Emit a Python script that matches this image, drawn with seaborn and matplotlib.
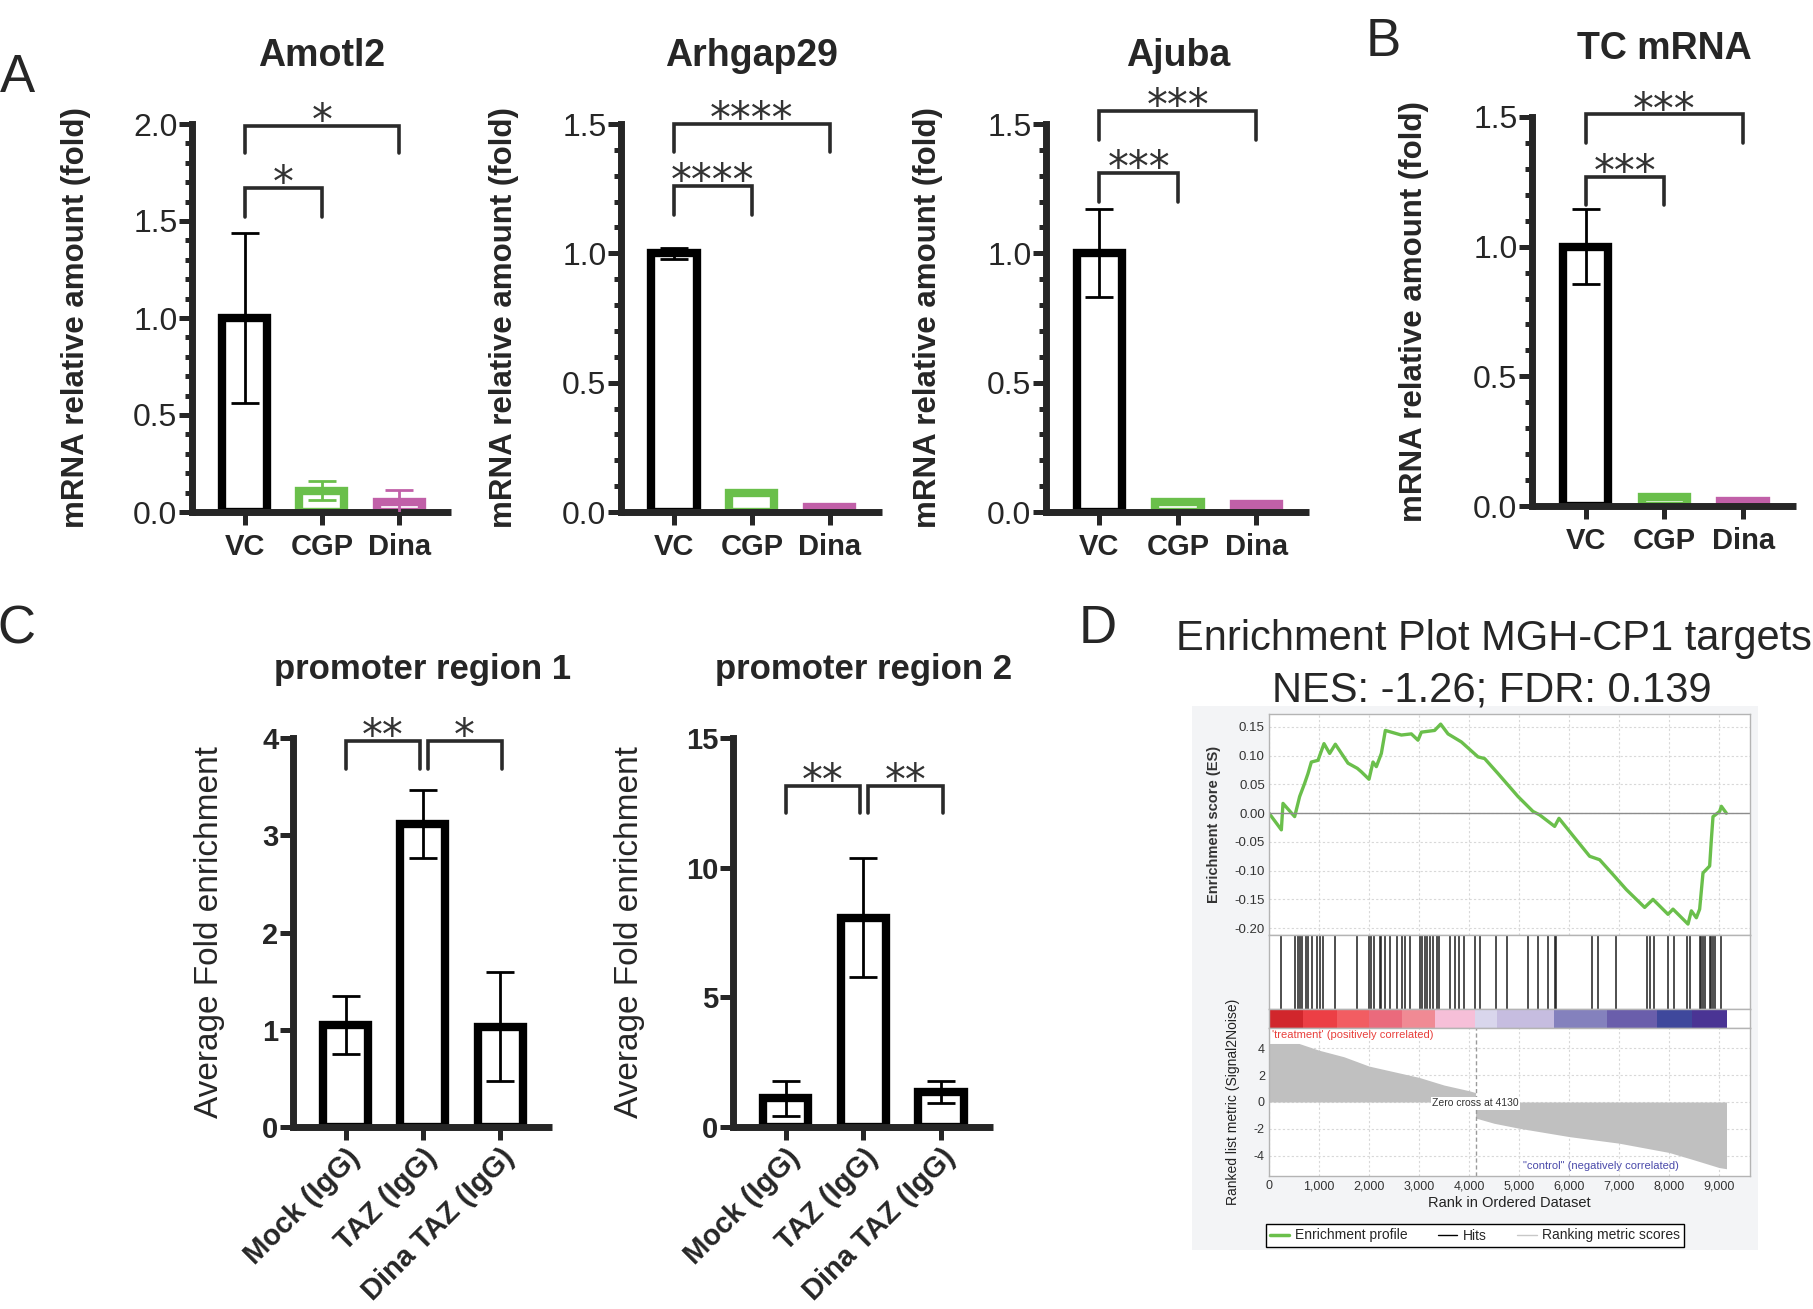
import matplotlib
matplotlib.use("Agg")
import matplotlib.pyplot as plt
import matplotlib.transforms as mtransforms
from matplotlib.lines import Line2D
from matplotlib.patches import Rectangle
from matplotlib.ticker import MultipleLocator
import seaborn as sns
import pandas as pd

# ---- A / B : qPCR (fold vs VC) ----
groups = ["VC", "CGP", "Dina"]
amotl2_mean = [1.00, 0.11, 0.05]
amotl2_err = [0.44, 0.05, 0.065]
arhgap29_mean = [1.00, 0.075, 0.02]
arhgap29_err = [0.02, 0.003, 0.002]
ajuba_mean = [1.00, 0.04, 0.03]
ajuba_err = [0.17, 0.003, 0.002]
tc_mean = [1.00, 0.033, 0.02]
tc_err = [0.145, 0.002, 0.001]
yticks_20 = [0.0, 0.5, 1.0, 1.5, 2.0]
yticks_15 = [0.0, 0.5, 1.0, 1.5]

# brackets: (from, to, top, leg end, stars)
amotl2_sig = [(0, 1, 1.67, 1.52, "*"), (0, 2, 1.99, 1.85, "*")]
arhgap29_sig = [(0, 1, 1.26, 1.15, "****"), (0, 2, 1.50, 1.39, "****")]
ajuba_sig = [(0, 1, 1.31, 1.20, "***"), (0, 2, 1.55, 1.44, "***")]
tc_sig = [(0, 1, 1.27, 1.16, "***"), (0, 2, 1.51, 1.40, "***")]

# ---- C : ChIP ----
chip_groups = ["Mock (IgG)", "TAZ (IgG)", "Dina TAZ (IgG)"]
region1_mean = [1.05, 3.12, 1.03]
region1_err = [0.30, 0.35, 0.56]
region2_mean = [1.10, 8.07, 1.35]
region2_err = [0.67, 2.30, 0.43]
yticks_r1 = [0, 1, 2, 3, 4]
yticks_r2 = [0, 5, 10, 15]
region1_sig = [(0, 0.96, 3.97, 3.68, "**"), (1.06, 2.02, 3.97, 3.68, "*")]
region2_sig = [(0, 0.96, 13.15, 12.1, "**"), (1.06, 2.02, 13.15, 12.1, "**")]

# ---- D : GSEA ----
es_rank = [0, 247, 280, 513, 613, 713, 780, 847, 980, 1100, 1213, 1327, 1580, 1767,
           1847, 2000, 2080, 2147, 2247, 2327, 2447, 2647, 2847, 2980, 3047, 3313,
           3433, 3580, 3847, 4180, 4313, 4580, 4980, 5280, 5413, 5713, 5800, 6013,
           6413, 6613, 6913, 7147, 7513, 7680, 7980, 8080, 8380, 8447, 8547, 8613,
           8680, 8813, 8847, 8880, 9013, 9047, 9147]
es_score = [0.0, -0.029, 0.017, -0.006, 0.029, 0.052, 0.069, 0.089, 0.092, 0.121,
            0.104, 0.120, 0.087, 0.078, 0.072, 0.059, 0.089, 0.081, 0.104, 0.144,
            0.141, 0.136, 0.138, 0.127, 0.141, 0.144, 0.155, 0.138, 0.124, 0.098,
            0.095, 0.069, 0.029, 0.003, -0.003, -0.023, -0.009, -0.032, -0.075,
            -0.081, -0.110, -0.133, -0.164, -0.150, -0.176, -0.167, -0.193, -0.170,
            -0.182, -0.167, -0.104, -0.092, -0.046, -0.006, 0.003, 0.012, 0.0]
hit_rank = [247, 514, 581, 614, 667, 747, 781, 861, 961, 1014, 1081, 1314, 1767, 2001,
            2047, 2101, 2214, 2247, 2314, 2427, 2561, 2661, 2727, 2827, 3014, 3061,
            3114, 3167, 3227, 3281, 3367, 3394, 3627, 3727, 3801, 3894, 4127, 4214,
            4547, 4761, 5181, 5381, 5581, 5714, 5747, 6461, 6581, 6947, 7561, 7614,
            7694, 7981, 8101, 8361, 8427, 8614, 8647, 8681, 8714, 8814, 8847, 8881,
            8914, 9034]
metric_rank = [0, 600, 1000, 1500, 2000, 2500, 3000, 3500, 4000, 4129,
               4131, 4500, 5000, 6000, 7000, 8000, 8500, 9000, 9150]
metric_value = [4.35, 4.35, 3.85, 3.36, 2.67, 2.25, 1.83, 1.26, 0.84, 0.70,
                -1.19, -1.58, -1.95, -2.57, -3.06, -3.75, -4.30, -4.87, -4.96]
heat_edges = [0, 680, 1350, 2000, 2650, 3310, 4110, 4550, 5690, 6750, 7750, 8450, 9150]
zero_cross = 4130
es_yticks = [0.15, 0.10, 0.05, 0.00, -0.05, -0.10, -0.15, -0.20]
metric_yticks = [4, 2, 0, -2, -4]
rank_ticks = [0, 1000, 2000, 3000, 4000, 5000, 6000, 7000, 8000, 9000]

HEAT_COLORS = ["#d1262c", "#ec3f45", "#f25d62", "#ea6a7c", "#f08a94", "#f6bfd8",
               "#d9d6ec", "#c6bde0", "#8481bd", "#6a5eab", "#3f489c", "#4a3494"]
GREEN = "#6abf4b"
MAGENTA = "#c160a8"
NARROW = ["Liberation Sans Narrow", "Liberation Sans"]
W, H = 1813, 1309

sns.set_style("ticks")
plt.rcParams["font.family"] = ["Liberation Sans", "DejaVu Sans"]
plt.rcParams["axes.linewidth"] = 5

fig = plt.figure(figsize=(W / 100, H / 100), dpi=100)


def px_box(x0, y0, x1, y1):
    return [x0 / W, 1 - y1 / H, (x1 - x0) / W, (y1 - y0) / H]


def brackets(ax, sig):
    for a, b, top, leg, stars in sig:
        ax.plot([a, a, b, b], [leg, top, top, leg], color="#2a2a2a", lw=2.6,
                solid_joinstyle="miter", clip_on=False, zorder=4)
        ax.annotate(stars, xy=((a + b) / 2, top), xytext=(0, -6),
                    textcoords="offset points", ha="center", va="baseline",
                    fontsize=30, color="#333333", family="DejaVu Sans",
                    annotation_clip=False)


def bar_panel(ax, cats, means, errs, colors, yticks, minor, sig, title, ylabel,
              yfmt, ylabel_x, chip=False):
    df = pd.DataFrame({"group": cats, "value": means})
    sns.barplot(data=df, x="group", y="value", hue="group", palette=colors,
                fill=False, width=0.58, linewidth=6, errorbar=None,
                legend=False, ax=ax)
    for p, c in zip(ax.patches, colors):
        p.set_edgecolor(c)
        p.set_facecolor("none")
        p.set_joinstyle("miter")
    for i, (m, e, c) in enumerate(zip(means, errs, colors)):
        ax.errorbar(i, m, yerr=e, fmt="none", ecolor=c, elinewidth=2,
                    capsize=10, capthick=2, zorder=3)
    ax.set_xlim(-0.68, 2.67)
    ax.set_ylim(0, yticks[-1])
    for s in ("top", "right"):
        ax.spines[s].set_visible(False)
    ax.spines["left"].set_bounds(0, yticks[-1])
    ax.spines["bottom"].set_capstyle("butt")
    if chip:
        ax.set_yticks(yticks, labels=[yfmt.format(t) for t in yticks],
                      fontsize=21, fontweight="bold")
    else:
        ax.set_yticks(yticks, labels=[yfmt.format(t) for t in yticks],
                      fontsize=23, family=NARROW)
    if minor:
        ax.yaxis.set_minor_locator(MultipleLocator(minor))
    ax.tick_params(axis="y", which="major", length=9.5, width=3.6, pad=1)
    ax.tick_params(axis="y", which="minor", length=5, width=3.6)
    ax.tick_params(axis="x", length=9, width=3.6, pad=3 if chip else 6)
    if chip:
        ax.set_xticks(range(len(cats)), labels=cats, fontsize=21, fontweight="bold",
                      rotation=45, ha="right", rotation_mode="anchor")
        ax.set_ylabel(ylabel, fontsize=24)
        tsize = 25
    else:
        ax.set_xticks(range(len(cats)), labels=cats, fontsize=21, fontweight="bold")
        ax.set_ylabel(ylabel, fontsize=22.5, fontweight="bold")
        tsize = 27
    ax.set_xlabel("")
    ax.yaxis.set_label_coords(ylabel_x, 0.5)
    trans = mtransforms.blended_transform_factory(ax.transData, ax.transAxes)
    ax.text(1, 1.175, title, transform=trans, ha="center", va="center",
            fontsize=tsize, fontweight="bold")
    brackets(ax, sig)


qpcr_colors = ["black", GREEN, MAGENTA]
ylab_a = "mRNA relative amount (fold)"

ax = fig.add_axes(px_box(192, 124, 451, 512))
bar_panel(ax, groups, amotl2_mean, amotl2_err, qpcr_colors, yticks_20, 0.1,
          amotl2_sig, "Amotl2", ylab_a, "{:.1f}", -0.39)
ax = fig.add_axes(px_box(621, 124, 882, 512))
bar_panel(ax, groups, arhgap29_mean, arhgap29_err, qpcr_colors, yticks_15, 0.1,
          arhgap29_sig, "Arhgap29", ylab_a, "{:.1f}", -0.39)
ax = fig.add_axes(px_box(1046, 124, 1309, 512))
bar_panel(ax, groups, ajuba_mean, ajuba_err, qpcr_colors, yticks_15, 0.1,
          ajuba_sig, "Ajuba", ylab_a, "{:.1f}", -0.39)
ax = fig.add_axes(px_box(1532, 117, 1796, 506))
bar_panel(ax, groups, tc_mean, tc_err, qpcr_colors, yticks_15, 0.1,
          tc_sig, "TC mRNA", ylab_a, "{:.1f}", -0.39)

chip_colors = ["black", "black", "black"]
ylab_c = "Average Fold enrichment"
ax = fig.add_axes(px_box(293, 738, 552, 1127))
bar_panel(ax, chip_groups, region1_mean, region1_err, chip_colors, yticks_r1, None,
          region1_sig, "promoter region 1", ylab_c, "{:d}", -0.263, chip=True)
ax = fig.add_axes(px_box(733, 738, 993, 1127))
bar_panel(ax, chip_groups, region2_mean, region2_err, chip_colors, yticks_r2, None,
          region2_sig, "promoter region 2", ylab_c, "{:d}", -0.338, chip=True)

# ---- D : GSEA enrichment plot ----
fig.add_artist(Rectangle((1192 / W, 1 - 1250 / H), (1758 - 1192) / W, (1250 - 706) / H,
                         transform=fig.transFigure, facecolor="#f3f4f6",
                         edgecolor="none", zorder=0))
fig.text(1494 / W, 1 - 639 / H, "Enrichment Plot MGH-CP1 targets", ha="center",
         va="center", fontsize=30)
fig.text(1492 / W, 1 - 690 / H, "NES: -1.26; FDR: 0.139", ha="center",
         va="center", fontsize=30)

frame_c = "#b4b4b4"
grid_kw = dict(color="#d8d8d8", ls=(0, (2, 2)), lw=0.8)
xmax = 9620

ax_es = fig.add_axes(px_box(1269, 714, 1750, 935))
sns.lineplot(x=es_rank, y=es_score, ax=ax_es, color=GREEN, lw=2.4, estimator=None)
ax_es.axhline(0, color="#8c8c8c", lw=1)
ax_es.set_xlim(0, xmax)
ax_es.set_ylim(-0.212, 0.1726)
ax_es.set_yticks(es_yticks, labels=["{:.2f}".format(t) for t in es_yticks])
ax_es.set_xticks(rank_ticks, labels=[])
ax_es.grid(True, **grid_kw)
ax_es.tick_params(length=0, labelsize=9.5, labelcolor="#333333", pad=3)
ax_es.set_ylabel("Enrichment score (ES)", fontsize=10.5, fontweight="bold",
                 color="#333333")
ax_es.yaxis.set_label_coords(-0.10, 0.5)

ax_hits = fig.add_axes(px_box(1269, 935, 1750, 1009))
ax_hits.vlines(hit_rank, 0, 1, color="#1e1e1e", lw=1.1)
ax_hits.set_xlim(0, xmax)
ax_hits.set_ylim(0, 1)
ax_hits.set_xticks([])
ax_hits.set_yticks([])

ax_heat = fig.add_axes(px_box(1269, 1009, 1750, 1028))
for x0, x1, c in zip(heat_edges[:-1], heat_edges[1:], HEAT_COLORS):
    ax_heat.axvspan(x0, x1, color=c, lw=0)
ax_heat.set_xlim(0, xmax)
ax_heat.set_xticks([])
ax_heat.set_yticks([])

ax_m = fig.add_axes(px_box(1269, 1028, 1750, 1176))
ax_m.fill_between(metric_rank, metric_value, 0, color="#c0c0c0", lw=0)
ax_m.axvline(zero_cross, color="#9a9a9a", ls=(0, (3, 2)), lw=1)
ax_m.set_xlim(0, xmax)
ax_m.set_ylim(-5.5, 5.5)
ax_m.set_yticks(metric_yticks, labels=[str(t) for t in metric_yticks])
ax_m.set_xticks(rank_ticks, labels=["{:,}".format(t) for t in rank_ticks])
ax_m.grid(True, **grid_kw)
ax_m.tick_params(length=0, labelsize=9, labelcolor="#333333", pad=3)
ax_m.set_xlabel("Rank in Ordered Dataset", fontsize=10.5, color="#222222", labelpad=3)
ax_m.set_ylabel("Ranked list metric (Signal2Noise)", fontsize=10, color="#222222")
ax_m.yaxis.set_label_coords(-0.06, 0.5)
ax_m.text(60, 4.95, "'treatment' (positively correlated)", color="#e8403c",
          fontsize=8, va="center", ha="left")
ax_m.text(zero_cross, -0.1, "Zero cross at 4130", fontsize=7.5, color="#333333",
          ha="center", va="center",
          bbox=dict(facecolor="white", edgecolor="none", pad=1))
ax_m.text(8200, -4.74, "\"control\" (negatively correlated)", color="#4a4aaa",
          fontsize=8, va="center", ha="right")

for a in (ax_es, ax_hits, ax_heat, ax_m):
    a.set_facecolor("white")
    for s in a.spines.values():
        s.set_linewidth(1)
        s.set_color(frame_c)

handles = [Line2D([], [], color=GREEN, lw=2.5), Line2D([], [], color="black", lw=1),
           Line2D([], [], color="#c8c8c8", lw=1)]
leg = fig.legend(handles, ["Enrichment profile", "Hits", "Ranking metric scores"],
                 ncol=3, loc="center", bbox_to_anchor=(1475 / W, 1 - 1235.5 / H),
                 frameon=True, fancybox=False, edgecolor="black", fontsize=10,
                 handlelength=1.4, handletextpad=0.4, columnspacing=2.2,
                 borderpad=0.3, framealpha=1)
leg.get_frame().set_linewidth(1)

# panel letters
for letter, x, y in [("A", 17, 78), ("B", 1383, 42), ("C", 16, 629), ("D", 1098, 629)]:
    fig.text(x / W, 1 - y / H, letter, fontsize=38, ha="center", va="center")

fig.savefig("out.png", dpi=100)
